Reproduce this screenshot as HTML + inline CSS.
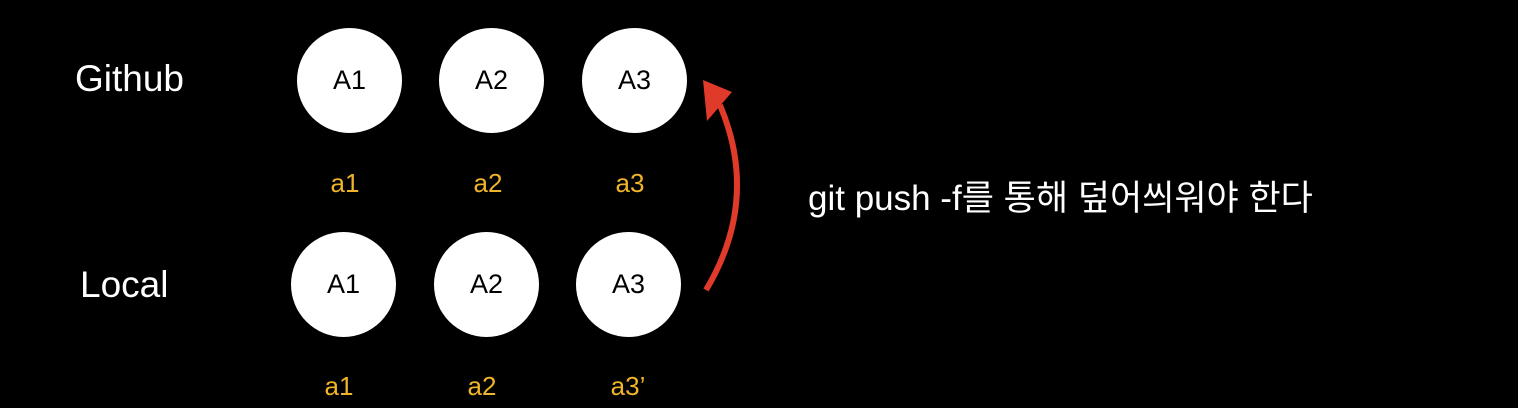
<!DOCTYPE html>
<html><head><meta charset="utf-8"><style>
body{margin:0;width:1518px;height:408px;background:#000;overflow:hidden;position:relative;font-family:"Liberation Sans","Noto Sans CJK KR",sans-serif}
.t{position:absolute;color:#fff;white-space:nowrap}
.c{position:absolute;width:105px;height:105px;border-radius:50%;background:#fff;color:#000;font-size:27px;display:flex;align-items:center;justify-content:center}
.l{position:absolute;color:#f0b429;font-size:26px;transform:translateX(-50%)}
</style></head><body>
<div class="t" style="left:75px;top:58px;font-size:37px">Github</div>
<div class="t" style="left:80px;top:264px;font-size:37px">Local</div>
<div class="c" style="left:297px;top:28px">A1</div>
<div class="c" style="left:439px;top:28px">A2</div>
<div class="c" style="left:582px;top:28px">A3</div>
<div class="c" style="left:291px;top:232px">A1</div>
<div class="c" style="left:434px;top:232px">A2</div>
<div class="c" style="left:576px;top:232px">A3</div>
<div class="l" style="left:345px;top:168px">a1</div>
<div class="l" style="left:488px;top:168px">a2</div>
<div class="l" style="left:630px;top:168px">a3</div>
<div class="l" style="left:339px;top:371px">a1</div>
<div class="l" style="left:482px;top:371px">a2</div>
<div class="l" style="left:628px;top:371px">a3’</div>
<svg style="position:absolute;left:0;top:0" width="1518" height="408">
<path d="M706,290 Q760,200 720,105" stroke="#e03a2a" stroke-width="6" fill="none"/>
<polygon points="703,80 732,92 707,121" fill="#e03a2a"/>
</svg>
<div class="t" style="left:808px;top:170px;font-size:35px">git push -f를 통해 덮어씌워야 한다</div>
</body></html>
